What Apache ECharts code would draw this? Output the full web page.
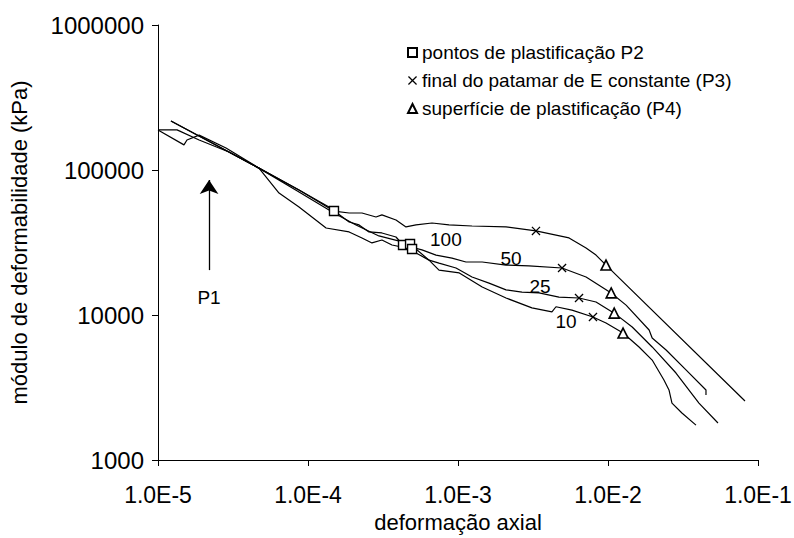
<!DOCTYPE html>
<html>
<head>
<meta charset="utf-8">
<script src="https://cdn.jsdelivr.net/npm/echarts@6/dist/echarts.min.js"></script>
<style>
  html, body { margin: 0; padding: 0; background: #fff; }
  #chart { width: 794px; height: 538px; }
</style>
</head>
<body>
<div id="chart"></div>
<script>
// tick labels
var xTicks = ['1.0E-5', '1.0E-4', '1.0E-3', '1.0E-2', '1.0E-1'];
var yTicks = ['1000', '10000', '100000', '1000000'];

// curves: [deformação axial, módulo (kPa)]
var curve100 = [
  [1.22e-5, 2.18e5], [4.71e-5, 1.03e5], [8.71e-5, 7.28e4], [1.49e-4, 5.21e4],
  [1.88e-4, 5.05e4], [2.29e-4, 5.05e4], [2.84e-4, 4.74e4], [3.11e-4, 4.90e4],
  [3.86e-4, 4.52e4], [4.50e-4, 4.05e4], [5.25e-4, 4.18e4], [6.71e-4, 4.31e4],
  [8.71e-4, 4.18e4], [1.24e-3, 4.11e4], [2.09e-3, 4.05e4], [3.31e-3, 3.80e4],
  [5.50e-3, 3.40e4], [7.14e-3, 2.90e4], [8.32e-3, 2.59e4], [9.70e-3, 2.21e4],
  [8.19e-2, 2.55e3]
];
var curve50 = [
  [1.00e-5, 1.89e5], [1.34e-5, 1.89e5], [1.88e-5, 1.61e5], [2.97e-5, 1.33e5],
  [4.71e-5, 1.03e5], [8.71e-5, 7.28e4], [1.38e-4, 5.56e4], [1.88e-4, 4.38e4],
  [2.19e-4, 4.18e4], [2.55e-4, 3.74e4], [3.11e-4, 3.68e4], [3.86e-4, 3.45e4],
  [4.30e-4, 3.04e4], [5.75e-4, 2.81e4], [7.14e-4, 2.59e4], [9.12e-4, 2.47e4],
  [1.13e-3, 2.32e4], [1.45e-3, 2.32e4], [2.09e-3, 2.21e4], [2.97e-3, 2.18e4],
  [4.94e-3, 2.11e4], [7.14e-3, 1.83e4], [1.05e-2, 1.42e4], [1.32e-2, 1.17e4],
  [1.88e-2, 7.88e3], [1.97e-2, 6.94e3], [2.44e-2, 5.74e3], [3.31e-2, 4.18e3],
  [4.50e-2, 3.04e3], [4.50e-2, 2.81e3]
];
var curve25 = [
  [1.00e-5, 1.89e5], [1.49e-5, 1.49e5], [1.56e-5, 1.61e5], [1.88e-5, 1.74e5],
  [2.84e-5, 1.42e5], [4.71e-5, 1.03e5], [8.71e-5, 7.05e4], [1.49e-4, 5.05e4],
  [2.09e-4, 4.18e4], [2.97e-4, 3.51e4], [4.79e-4, 3.09e4], [6.41e-4, 2.39e4],
  [7.47e-4, 2.28e4], [9.70e-4, 2.11e4], [1.24e-3, 1.83e4], [1.61e-3, 1.66e4],
  [2.09e-3, 1.49e4], [2.67e-3, 1.44e4], [3.47e-3, 1.42e4], [4.71e-3, 1.33e4],
  [6.41e-3, 1.31e4], [8.32e-3, 1.23e4], [1.10e-2, 1.03e4], [1.45e-2, 8.26e3],
  [1.97e-2, 6.02e3], [2.84e-2, 3.98e3], [4.04e-2, 2.47e3], [5.41e-2, 1.80e3]
];
var curve10 = [
  [1.22e-5, 2.18e5], [2.97e-5, 1.33e5], [4.71e-5, 1.03e5], [6.41e-5, 6.94e4],
  [8.71e-5, 5.56e4], [1.32e-4, 3.98e4], [1.88e-4, 3.74e4], [2.29e-4, 3.40e4],
  [2.67e-4, 3.14e4], [3.11e-4, 3.29e4], [3.63e-4, 3.04e4], [4.94e-4, 2.85e4],
  [5.25e-4, 2.68e4], [6.41e-4, 2.39e4], [7.47e-4, 2.04e4], [1.02e-3, 1.95e4],
  [1.45e-3, 1.56e4], [2.09e-3, 1.31e4], [3.11e-3, 1.12e4], [4.23e-3, 1.05e4],
  [4.50e-3, 1.14e4], [5.75e-3, 1.08e4], [7.94e-3, 9.69e3], [9.70e-3, 8.81e3],
  [1.26e-2, 7.51e3], [1.61e-2, 6.02e3], [1.97e-2, 4.89e3], [2.36e-2, 3.56e3],
  [2.55e-2, 3.04e3], [2.67e-2, 2.47e3], [3.11e-2, 2.11e3], [3.86e-2, 1.74e3]
];

// marked points
var pointsP2 = [[1.49e-4, 5.21e4], [4.30e-4, 3.04e4], [4.79e-4, 3.09e4], [4.94e-4, 2.85e4]];
var pointsP3 = [[3.31e-3, 3.80e4], [4.94e-3, 2.11e4], [6.41e-3, 1.31e4], [7.94e-3, 9.69e3]];
var pointsP4 = [[9.70e-3, 2.21e4], [1.05e-2, 1.42e4], [1.10e-2, 1.03e4], [1.26e-2, 7.51e3]];

// curve labels (confining stress) and P1 arrow
var curveNames = ['100', '50', '25', '10'];
var curveLabelPos = [[8.3e-4, 3.34e4], [2.26e-3, 2.47e4], [3.52e-3, 1.56e4], [5.25e-3, 8.95e3]];
var arrowX = 2.19e-5;
var arrowFrom = 2.04e4;
var arrowTo = 8.53e4;
var p1LabelY = 1.33e4;

var legendNames = [
  'pontos de plastificação P2',
  'final do patamar de E constante (P3)',
  'superfície de plastificação (P4)'
];

var font = '"Liberation Sans", Arial, sans-serif';
var ink = '#000';

function lineSeries(data) {
  return {
    type: 'line', data: data, showSymbol: false, symbol: 'none',
    lineStyle: { color: ink, width: 1.2 }, silent: true, z: 2
  };
}

var crossPath = 'path://M0,1 L1,0 L10,9 L9,10 Z M9,0 L10,1 L1,10 L0,9 Z';

var chart = echarts.init(document.getElementById('chart'), null, { renderer: 'svg' });
chart.setOption({
  animation: false,
  backgroundColor: '#fff',
  textStyle: { fontFamily: font },
  grid: { left: 158, right: 36, top: 25, bottom: 78, outerBoundsMode: 'none', containLabel: false },
  legend: {
    data: legendNames,
    orient: 'vertical',
    left: 402, top: 38,
    itemWidth: 9, itemHeight: 9, itemGap: 9,
    textStyle: { color: ink, fontSize: 19, fontFamily: font },
    selectedMode: false
  },
  xAxis: {
    type: 'log', logBase: 10, min: 1e-5, max: 1e-1,
    name: 'deformação axial', nameLocation: 'middle', nameGap: 51,
    nameTextStyle: { color: ink, fontSize: 22, fontFamily: font },
    axisLine: { lineStyle: { color: ink, width: 1 } },
    axisTick: { inside: false, length: 6, lineStyle: { color: ink } },
    minorTick: { show: false },
    splitLine: { show: false },
    axisLabel: {
      color: ink, fontSize: 23, margin: 23, fontFamily: font,
      formatter: function(v) { return xTicks[Math.round(Math.log10(v)) + 5]; }
    }
  },
  yAxis: {
    type: 'log', logBase: 10, min: 1000, max: 1000000,
    name: 'módulo de deformabilidade (kPa)', nameLocation: 'middle', nameGap: 128,
    nameTextStyle: { color: ink, fontSize: 22, fontFamily: font },
    axisLine: { show: true, lineStyle: { color: ink, width: 1 } },
    axisTick: { show: true, inside: false, length: 6, lineStyle: { color: ink } },
    minorTick: { show: false },
    splitLine: { show: false },
    axisLabel: {
      color: ink, fontSize: 24, margin: 14, fontFamily: font,
      formatter: function(v) { return yTicks[Math.round(Math.log10(v)) - 3]; }
    }
  },
  series: [
    lineSeries(curve100),
    lineSeries(curve50),
    lineSeries(curve25),
    lineSeries(curve10),
    {
      name: legendNames[0], type: 'scatter', data: pointsP2,
      symbol: 'rect', symbolSize: 9,
      itemStyle: { color: '#fff', borderColor: ink, borderWidth: 1.4, opacity: 1 }, z: 5
    },
    {
      name: legendNames[1], type: 'scatter', data: pointsP3,
      symbol: crossPath, symbolSize: 9,
      itemStyle: { color: ink, opacity: 1 }, z: 5
    },
    {
      name: legendNames[2], type: 'scatter', data: pointsP4,
      symbol: 'triangle', symbolSize: 10,
      itemStyle: { color: '#fff', borderColor: ink, borderWidth: 1.6, opacity: 1 }, z: 5
    },
    {
      type: 'scatter', symbolSize: 0, silent: true, z: 6,
      itemStyle: { opacity: 1 },
      data: curveNames.map(function(n, i) { return { name: n, value: curveLabelPos[i] }; }),
      label: {
        show: true, position: 'inside', formatter: '{b}',
        color: ink, fontSize: 19, fontFamily: font
      }
    },
    {
      type: 'scatter', symbolSize: 0, silent: true, z: 6,
      itemStyle: { opacity: 1 },
      data: [{ name: 'P1', value: [arrowX, p1LabelY] }],
      label: {
        show: true, position: 'inside', formatter: '{b}',
        color: ink, fontSize: 19, fontFamily: font
      },
      markLine: {
        silent: true, symbol: ['none', 'arrow'], symbolSize: 14,
        label: { show: false },
        lineStyle: { color: ink, width: 1.3, type: 'solid', opacity: 1 },
        data: [[{ coord: [arrowX, arrowFrom] }, { coord: [arrowX, arrowTo] }]]
      }
    }
  ]
});
</script>
</body>
</html>
